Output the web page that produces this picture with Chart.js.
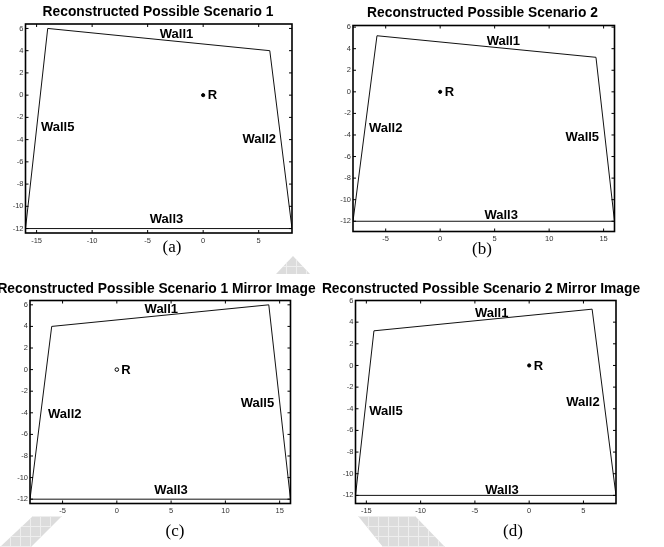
<!DOCTYPE html>
<html>
<head>
<meta charset="utf-8">
<title>Reconstructed scenarios</title>
<script src="https://cdn.jsdelivr.net/npm/chart.js@4.4.1/dist/chart.umd.min.js"></script>
<style>
  html, body { margin: 0; padding: 0; background: #fff; }
  #fig { position: relative; width: 664px; height: 547px; overflow: hidden;
         font-family: "Liberation Sans", Arial, sans-serif; }
  #fig canvas { position: absolute; }
  .ttl { position: absolute; width: 400px; margin-left: -200px; text-align: center;
         font-weight: bold; font-size: 13.8px; line-height: 16px; white-space: nowrap; color: #000; }
  .cap { position: absolute; width: 60px; margin-left: -30px; text-align: center;
         font-family: "Liberation Serif", "Times New Roman", serif; font-size: 17px; line-height: 20px; color: #000; }
  .wm { position: absolute; background-color: #dcdcdc;
        background-image: linear-gradient(#eeeeee 1px, transparent 1px),
                          linear-gradient(90deg, #eeeeee 1px, transparent 1px);
        background-size: 10px 10px; }
</style>
</head>
<body>
<div id="fig">
  <div class="wm" style="left:276px;top:256px;width:36px;height:20px;clip-path:polygon(17px 0,34px 18px,0 18px);"></div>
  <div class="wm" style="left:0;top:516px;width:64px;height:31px;clip-path:polygon(33px 0,62px 0,31px 31px,0 31px);"></div>
  <div class="wm" style="left:358px;top:516px;width:90px;height:31px;clip-path:polygon(0 0,57px 0,87px 31px,25px 31px);"></div>

  <canvas id="chartA"></canvas>
  <canvas id="chartB"></canvas>
  <canvas id="chartC"></canvas>
  <canvas id="chartD"></canvas>

  <div class="ttl" id="ttlA" style="left:158px;top:4px;"></div>
  <div class="ttl" id="ttlB" style="left:482.5px;top:4.5px;"></div>
  <div class="ttl" id="ttlC" style="left:156.5px;top:281px;"></div>
  <div class="ttl" id="ttlD" style="left:481px;top:281px;"></div>

  <div class="cap" id="capA" style="left:172px;top:237px;"></div>
  <div class="cap" id="capB" style="left:482px;top:239px;"></div>
  <div class="cap" id="capC" style="left:175px;top:521px;"></div>
  <div class="cap" id="capD" style="left:513px;top:521px;"></div>
</div>
<script>
  'use strict';

  const TITLES = [
    'Reconstructed Possible Scenario 1',
    'Reconstructed Possible Scenario 2',
    'Reconstructed Possible Scenario 1 Mirror Image',
    'Reconstructed Possible Scenario 2 Mirror Image',
  ];
  const CAPTIONS = ['(a)', '(b)', '(c)', '(d)'];

  // room outlines, walked round from the bottom-left corner
  const outlineXA = [-16, -14, 6, 8, -16];
  const outlineYA = [-12, 6, 4, -12, -12];
  const outlineXB = [-8, -5.8, 14.3, 16, -8];
  const outlineYB = [-12, 5.2, 3.2, -12, -12];
  const outlineXC = [-8, -6, 14, 16, -8];
  const outlineYC = [-12, 4, 6, -12, -12];
  const outlineXD = [-16, -14.3, 5.8, 8, -16];
  const outlineYD = [-12, 3.2, 5.2, -12, -12];

  // receiver
  const receiverX = 0;
  const receiverY = 0;
  const receiverName = 'R';

  // wall names and where they are written (data units)
  const wallsA = ['Wall1', 'Wall5', 'Wall2', 'Wall3'];
  const wallXA = [-2.4, -13.1, 5.05, -3.3];
  const wallYA = [5.45, -2.9, -3.95, -11.2];
  const wallsB = ['Wall1', 'Wall2', 'Wall5', 'Wall3'];
  const wallXB = [5.8, -5.0, 13.05, 5.6];
  const wallYB = [4.65, -3.4, -4.2, -11.45];
  const wallsC = ['Wall1', 'Wall2', 'Wall5', 'Wall3'];
  const wallXC = [4.1, -4.8, 12.95, 5.0];
  const wallYC = [5.55, -4.15, -3.1, -11.15];
  const wallsD = ['Wall1', 'Wall5', 'Wall2', 'Wall3'];
  const wallXD = [-3.45, -13.2, 4.95, -2.5];
  const wallYD = [4.85, -4.25, -3.45, -11.5];

  // axis limits and ticks
  const xLimLeft = [-16, 8];
  const xLimRight = [-8, 16];
  const yLimA = [-12.4, 6.4];
  const yLimB = [-12.95, 6.15];
  const yLimC = [-12.4, 6.4];
  const yLimD = [-12.75, 6];
  const xTicksLeft = [-15, -10, -5, 0, 5];
  const xTicksRight = [-5, 0, 5, 10, 15];
  const yTicks = [-12, -10, -8, -6, -4, -2, 0, 2, 4, 6];

  const FONT = '"Liberation Sans", Arial, sans-serif';
  const INK = '#111';

  const framePlugin = {
    id: 'frame',
    afterDatasetsDraw(chart, args, opts) {
      const { ctx, chartArea: a, scales: { x, y } } = chart;
      ctx.save();
      ctx.strokeStyle = '#000';
      ctx.lineWidth = 1;
      ctx.beginPath();
      x.ticks.forEach((t) => {
        const px = x.getPixelForValue(t.value);
        ctx.moveTo(px, a.top); ctx.lineTo(px, a.top + 3);
        ctx.moveTo(px, a.bottom); ctx.lineTo(px, a.bottom - 3);
      });
      y.ticks.forEach((t) => {
        const py = y.getPixelForValue(t.value);
        ctx.moveTo(a.left, py); ctx.lineTo(a.left + 3, py);
        ctx.moveTo(a.right, py); ctx.lineTo(a.right - 3, py);
      });
      ctx.stroke();
      ctx.lineWidth = 1.6;
      ctx.strokeRect(a.left, a.top, a.right - a.left, a.bottom - a.top);

      ctx.fillStyle = '#000';
      ctx.font = `bold 13px ${FONT}`;
      ctx.textAlign = 'center';
      ctx.textBaseline = 'middle';
      opts.names.forEach((n, i) => {
        ctx.fillText(n, x.getPixelForValue(opts.xs[i]), y.getPixelForValue(opts.ys[i]));
      });
      ctx.textAlign = 'left';
      ctx.fillText(receiverName, x.getPixelForValue(receiverX) + 4.5, y.getPixelForValue(receiverY) + 0.5);
      ctx.restore();
    },
  };

  const axis = (lim, ticks, fitFn, pad) => ({
    type: 'linear',
    min: lim[0],
    max: lim[1],
    afterBuildTicks: (s) => { s.ticks = ticks.map((v) => ({ value: v })); },
    afterFit: fitFn,
    grid: { display: false, drawTicks: false },
    border: { display: false },
    ticks: { font: { size: 7.5, family: FONT }, color: '#333', padding: pad, autoSkip: false, maxRotation: 0 },
  });

  function mountPanel(id, p) {
    const el = document.getElementById(id);
    const b = p.box;
    const cl = Math.floor(b.left) - 26;
    const ct = Math.floor(b.top) - 9;
    const cw = Math.ceil(b.right) + 6 - cl;
    const ch = Math.ceil(b.bottom) + 18 - ct;
    el.width = cw; el.height = ch;
    el.style.left = cl + 'px'; el.style.top = ct + 'px';
    el.style.width = cw + 'px'; el.style.height = ch + 'px';
    const yw = b.left - cl;
    const xh = ct + ch - b.bottom;

    return new Chart(el, {
      type: 'scatter',
      data: {
        datasets: [
          {
            data: p.xs.map((v, i) => ({ x: v, y: p.ys[i] })),
            showLine: true,
            borderColor: INK,
            borderWidth: 1,
            pointRadius: 0,
            tension: 0,
            fill: false,
          },
          {
            data: [{ x: receiverX, y: receiverY }],
            pointRadius: p.hollow ? 1.8 : 1.6,
            pointBorderWidth: 1,
            borderColor: '#000',
            pointBackgroundColor: p.hollow ? '#fff' : '#000',
          },
        ],
      },
      options: {
        responsive: false,
        animation: false,
        devicePixelRatio: 1,
        layout: { padding: { left: 0, top: b.top - ct, right: cl + cw - b.right, bottom: 0 } },
        plugins: {
          legend: { display: false },
          tooltip: { enabled: false },
          frame: { names: p.names, xs: p.lx, ys: p.ly },
        },
        scales: {
          x: axis(p.xlim, p.xticks, (s) => { s.height = xh; }, 3),
          y: axis(p.ylim, yTicks, (s) => { s.width = yw; }, 2),
        },
      },
      plugins: [framePlugin],
    });
  }

  ['ttlA', 'ttlB', 'ttlC', 'ttlD'].forEach((id, i) => { document.getElementById(id).textContent = TITLES[i]; });
  ['capA', 'capB', 'capC', 'capD'].forEach((id, i) => { document.getElementById(id).textContent = CAPTIONS[i]; });

  mountPanel('chartA', {
    box: { left: 25.5, top: 24, right: 292, bottom: 233 },
    xs: outlineXA, ys: outlineYA, names: wallsA, lx: wallXA, ly: wallYA,
    xlim: xLimLeft, ylim: yLimA, xticks: xTicksLeft,
  });
  mountPanel('chartB', {
    box: { left: 353, top: 25.5, right: 614.5, bottom: 231.5 },
    xs: outlineXB, ys: outlineYB, names: wallsB, lx: wallXB, ly: wallYB,
    xlim: xLimRight, ylim: yLimB, xticks: xTicksRight,
  });
  mountPanel('chartC', {
    box: { left: 30, top: 300.5, right: 290.5, bottom: 503.5 },
    xs: outlineXC, ys: outlineYC, names: wallsC, lx: wallXC, ly: wallYC,
    xlim: xLimRight, ylim: yLimC, xticks: xTicksRight, hollow: true,
  });
  mountPanel('chartD', {
    box: { left: 355.5, top: 300.5, right: 616, bottom: 503.5 },
    xs: outlineXD, ys: outlineYD, names: wallsD, lx: wallXD, ly: wallYD,
    xlim: xLimLeft, ylim: yLimD, xticks: xTicksLeft,
  });
</script>
</body>
</html>
